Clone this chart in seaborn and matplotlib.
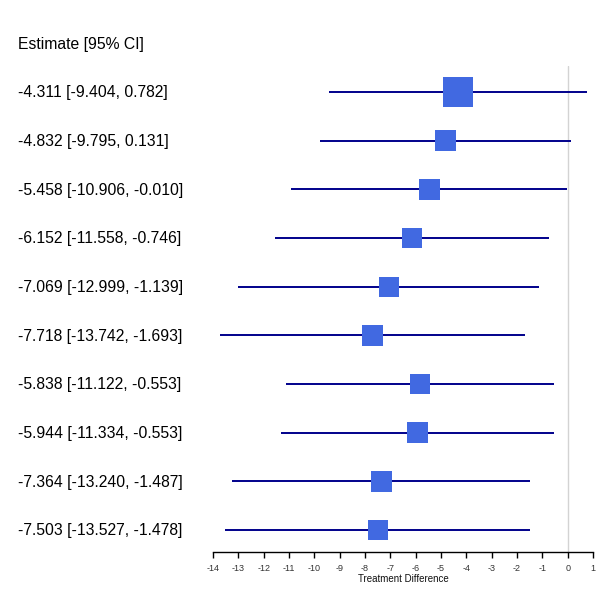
import matplotlib
matplotlib.use("Agg")
import matplotlib.pyplot as plt
import matplotlib.transforms as mtransforms
import seaborn as sns
import pandas as pd

estimates = [-4.311, -4.832, -5.458, -6.152, -7.069, -7.718, -5.838, -5.944, -7.364, -7.503]
lower = [-9.404, -9.795, -10.906, -11.558, -12.999, -13.742, -11.122, -11.334, -13.240, -13.527]
upper = [0.782, 0.131, -0.010, -0.746, -1.139, -1.693, -0.553, -0.553, -1.487, -1.478]
weights = [30, 21, 21, 20, 20, 21, 20, 21, 21, 20]
x_ticks = list(range(-14, 2))
header = "Estimate [95% CI]"
x_label = "Treatment Difference"

sns.set_theme(style="white")
plt.rcParams['font.family'] = ['Liberation Sans', 'DejaVu Sans']

W = H = 612
dpi = 100
fig = plt.figure(figsize=(W / dpi, H / dpi), dpi=dpi)
ax_left, ax_right = 213, 593
ax_top, ax_bottom = 66, 552
ax = fig.add_axes([ax_left / W, 1 - ax_bottom / H, (ax_right - ax_left) / W, (ax_bottom - ax_top) / H])

rows = list(range(len(estimates)))
df = pd.DataFrame({"row": rows, "est": estimates, "lo": lower, "hi": upper, "w": weights})

ax.axvline(0, color="#d3d3d3", lw=1.0, zorder=0)
ax.hlines(df["row"], df["lo"], df["hi"], color="#00008b", lw=1.4, zorder=1)
sizes = [(w * 72 / dpi) ** 2 for w in weights]
sns.scatterplot(data=df, x="est", y="row", marker="s", s=sizes, color="#4169e1",
                edgecolor="none", linewidth=0, ax=ax, legend=False, zorder=2)

ax.set_xlim(-14, 1)
ax.set_ylim(9.452, -0.534)
ax.set_xticks(x_ticks)
ax.set_xticklabels([str(t) for t in x_ticks], fontsize=6.5, color="#333333")
ax.set_yticks([])
ax.set_ylabel("")
ax.set_xlabel(x_label, fontsize=7, color="#111111", labelpad=1)
for s in ["top", "right", "left"]:
    ax.spines[s].set_visible(False)
ax.spines["bottom"].set_color("black")
ax.spines["bottom"].set_linewidth(1.0)
ax.tick_params(axis="x", direction="out", length=4, width=1, color="black", pad=4.5, bottom=True)

trans = mtransforms.blended_transform_factory(fig.transFigure, ax.transData)
for r, e, l, h in zip(rows, estimates, lower, upper):
    ax.text(18 / W, r + 0.02, f"{e:.3f} [{l:.3f}, {h:.3f}]", transform=trans,
            ha="left", va="center", fontsize=11.3, color="black")
fig.text(18 / W, 1 - 44 / H, header, ha="left", va="center", fontsize=11.3, color="black")

fig.savefig("out.png", dpi=dpi, facecolor="white")
